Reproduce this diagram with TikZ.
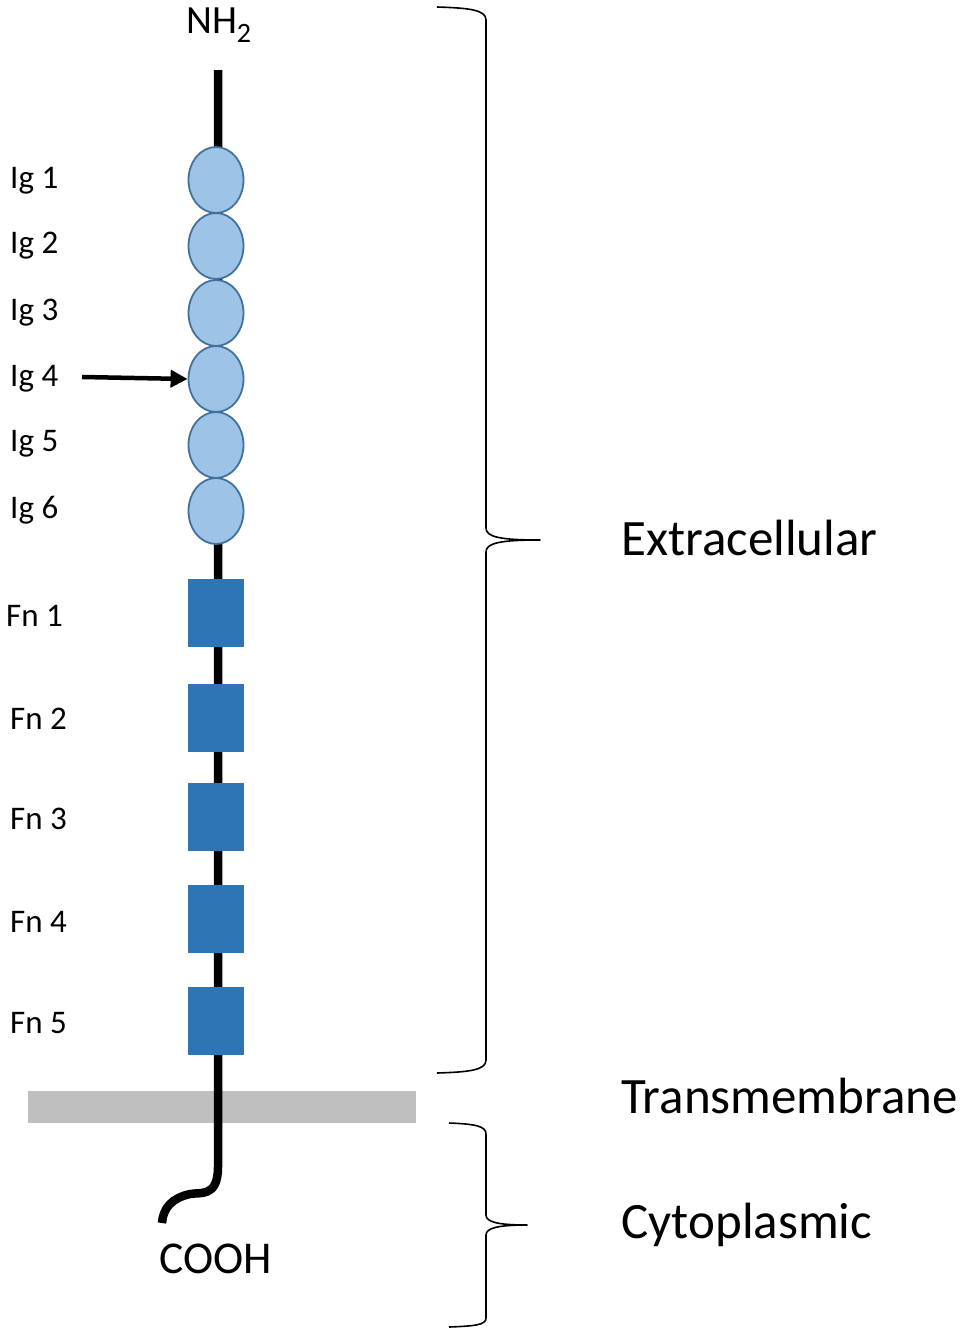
\documentclass[tikz,border=0pt]{standalone}
\usepackage{fontspec}
\setmainfont{Carlito}
\usetikzlibrary{shapes.geometric,arrows.meta}
\definecolor{iglight}{HTML}{9DC3E6}
\definecolor{igborder}{HTML}{41719C}
\definecolor{fnblue}{HTML}{2E75B6}
\definecolor{membrane}{HTML}{BFBFBF}
\tikzset{
  igdom/.style={ellipse, draw=igborder, line width=1.8pt, fill=iglight, minimum width=55pt, minimum height=66pt, inner sep=0pt},
  fndom/.style={rectangle, fill=fnblue, minimum width=56pt, minimum height=68pt, inner sep=0pt},
  dlabel/.style={anchor=base west, inner sep=0pt, font=\fontsize{33}{39}\selectfont},
  biglabel/.style={anchor=base west, inner sep=0pt, font=\fontsize{51}{61}\selectfont},
  bracestyle/.style={line width=1.6pt, line join=round},
  backbone/.style={line width=8.5pt}
}
\begin{document}
\begin{tikzpicture}[x=1pt,y=-1pt]
\useasboundingbox (0,0) rectangle (969,1334);
% membrane
\node[rectangle, fill=membrane, minimum width=388pt, minimum height=32pt, inner sep=0pt] (mem) at (222,1107) {};
% backbone
\coordinate (top) at (218,70);
\coordinate (bend) at (218,1167);
\coordinate (cend) at (162,1223);
\draw[backbone] (top) -- (bend) .. controls (218,1198) and (200,1192) .. (190,1194)
  .. controls (172,1198) and (163,1208) .. (cend);
% Ig domains
\foreach \i/\y in {1/180,2/246,3/313,4/379,5/445,6/511}{
  \node[igdom] (ig\i) at (216,\y) {};
}
% Fn domains
\foreach \i/\y in {1/613,2/718,3/817,4/919,5/1021}{
  \node[fndom] (fn\i) at (216,\y) {};
}
% labels
\node[dlabel] (lig1) at (10,188) {Ig 1};
\node[dlabel] (lig2) at (10,253) {Ig 2};
\node[dlabel] (lig3) at (10,320) {Ig 3};
\node[dlabel] (lig4) at (10,386) {Ig 4};
\node[dlabel] (lig5) at (10,451) {Ig 5};
\node[dlabel] (lig6) at (10,518) {Ig 6};
\node[dlabel] (lfn1) at (6,626) {Fn 1};
\node[dlabel] (lfn2) at (10,729) {Fn 2};
\node[dlabel] (lfn3) at (10,829) {Fn 3};
\node[dlabel] (lfn4) at (10,932) {Fn 4};
\node[dlabel] (lfn5) at (10,1033) {Fn 5};
% termini
\node[anchor=base west, inner sep=0pt, font=\fontsize{40}{48}\selectfont] (nh2) at (186,33) {NH\textsubscript{2}};
\node[anchor=base west, inner sep=0pt, font=\fontsize{45.5}{54}\selectfont] (cooh) at (159,1273) {COOH};
% arrow
\coordinate (arrtail) at (82,377);
\draw[line width=4.5pt, -{Triangle[length=17pt,width=17pt]}] (arrtail) -- (ig4.west);
% region labels
\node[biglabel] (extra) at (621,555) {Extracellular};
\node[biglabel] (trans) at (621,1113) {Transmembrane};
\node[biglabel] (cyto) at (621,1238) {Cytoplasmic};
% braces
\draw[bracestyle] (437,7) .. controls (470,8) and (486,10) .. (486,20)
  -- (486,528) .. controls (486,537) and (500,540) .. (540,540)
  .. controls (500,540) and (486,543) .. (486,552)
  -- (486,1060) .. controls (486,1070) and (470,1072) .. (437,1073);
\draw[bracestyle] (449,1123) .. controls (475,1124) and (486,1126) .. (486,1134)
  -- (486,1215) .. controls (486,1222) and (498,1225) .. (527,1225)
  .. controls (498,1225) and (486,1228) .. (486,1235)
  -- (486,1318) .. controls (486,1325) and (475,1326) .. (449,1327);
\end{tikzpicture}
\end{document}
